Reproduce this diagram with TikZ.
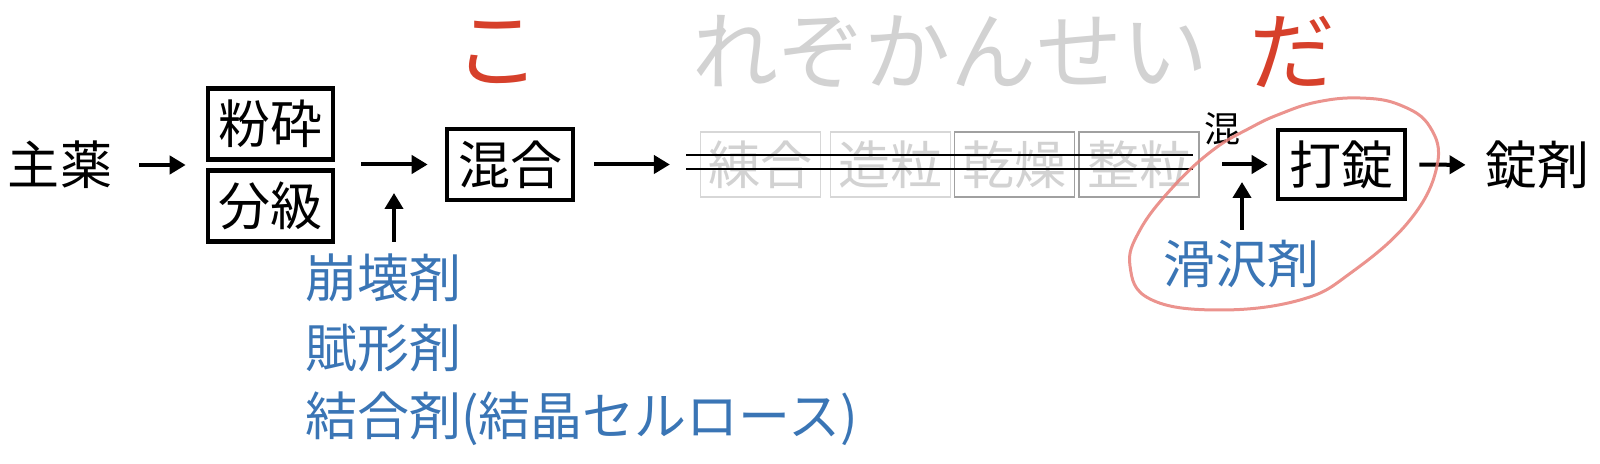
\documentclass[tikz,border=0pt]{standalone}
\usepackage{fontspec}
\setmainfont{Noto Sans CJK JP}
\usetikzlibrary{arrows.meta,calc}
\definecolor{jred}{RGB}{214,64,43}
\definecolor{jgray}{RGB}{210,210,210}
\definecolor{jblue}{RGB}{58,117,181}
\definecolor{boxlight}{RGB}{215,215,215}
\definecolor{boxdark}{RGB}{160,160,160}
\definecolor{pencil}{RGB}{232,128,122}
\newcommand{\bigtxt}{\fontsize{26pt}{30pt}\selectfont}
\newcommand{\hugetxt}{\fontsize{43pt}{48pt}\selectfont}
\newcommand{\smalltxt}{\fontsize{18pt}{20pt}\selectfont}
\tikzset{
  arr/.style={line width=2pt,-{Triangle[length=8pt,width=9pt]}},
  plain/.style={inner sep=0pt,font=\bigtxt},
  procbox/.style={draw,line width=2.3pt,inner sep=0pt,font=\bigtxt,minimum height=35.5pt},
  ghostbox/.style={draw=boxlight,line width=0.6pt,inner sep=0pt,font=\bigtxt,text=jgray,minimum height=32.5pt,minimum width=60pt},
  ghostdark/.style={ghostbox,draw=boxdark},
  bluetxt/.style={inner sep=0pt,font=\bigtxt,text=jblue,anchor=west},
  title/.style={inner sep=0pt,font=\hugetxt}
}
\begin{document}
\begin{tikzpicture}[x=0.5pt,y=-0.5pt]
\useasboundingbox (0,0) rectangle (1600,464);
% top caption
\node[title,text=jred] (ko) at (497,52) {こ};
\node[title,text=jgray] (rezo) at (950,52) {れぞかんせい};
\node[title,text=jred] (da) at (1292,52) {だ};
% main row
\node[plain] (shuyaku) at (60,165) {主薬};
\node[procbox,minimum width=62.5pt] (funsai) at (270.5,124) {粉砕};
\node[procbox,minimum width=62.5pt] (bunkyu) at (270.5,206) {分級};
\node[procbox,minimum width=63pt] (kongo) at (510,164.5) {混合};
\node[ghostbox] (nerigo) at (760.5,164.5) {練合};
\node[ghostbox] (zoryu) at (890.5,164.5) {造粒};
\node[ghostdark] (kanso) at (1014.5,164.5) {乾燥};
\node[ghostdark] (seiryu) at (1139,164.5) {整粒};
\node[procbox,minimum width=63.5pt,minimum height=34.5pt] (dajo) at (1341.5,164.5) {打錠};
\node[plain] (jozai) at (1537,165) {錠剤};
\node[inner sep=0pt,font=\smalltxt] (kon) at (1222,129) {混};
% blue additives
\node[bluetxt] (houkai) at (305,278) {崩壊剤};
\node[bluetxt] (fukei) at (305,348) {賦形剤};
\node[bluetxt] (ketsugo) at (305,419) {結合剤(結晶セルロース)};
\node[inner sep=0pt,font=\bigtxt,text=jblue] (kattaku) at (1241,264) {滑沢剤};
% coordinates
\coordinate (u1a) at (394,242);
\coordinate (u1b) at (394,193);
\coordinate (u2a) at (1242,230);
\coordinate (u2b) at (1242,182);
\coordinate (mixs) at (1222,164);
\coordinate (s1a) at (686,155);
\coordinate (s1b) at (1193,155);
\coordinate (s2a) at (686,169);
\coordinate (s2b) at (1193,169);
% connectors
\draw[arr,shorten <=13.5pt,shorten >=10pt] (shuyaku.east) -- (shuyaku.east -| funsai.west);
\draw[arr,shorten <=13pt,shorten >=8.5pt] (kongo.west -| bunkyu.east) -- (kongo.west);
\draw[arr] (u1a) -- (u1b);
\draw[arr,shorten <=9.5pt,shorten >=15pt] (kongo.east) -- (kongo.east -| nerigo.west);
\draw[line width=1pt] (s1a) -- (s1b);
\draw[line width=1pt] (s2a) -- (s2b);
\draw[arr,shorten >=4pt] (dajo.west -| mixs) -- (dajo.west);
\draw[arr] (u2a) -- (u2b);
\draw[arr,shorten <=6pt,shorten >=9.5pt] (dajo.east) -- (jozai.west);
% pencil loop
\draw[pencil,line width=1.5pt,opacity=0.85,line join=round] plot[smooth cycle,tension=0.7] coordinates {
  (1130,266) (1150,299) (1217,310) (1300,300) (1352,272) (1410,220) (1437,166)
  (1430,127) (1400,105) (1360,98) (1317,102) (1280,114) (1250,128) (1213,150)
  (1173,187) (1140,230)};
\end{tikzpicture}
\end{document}
